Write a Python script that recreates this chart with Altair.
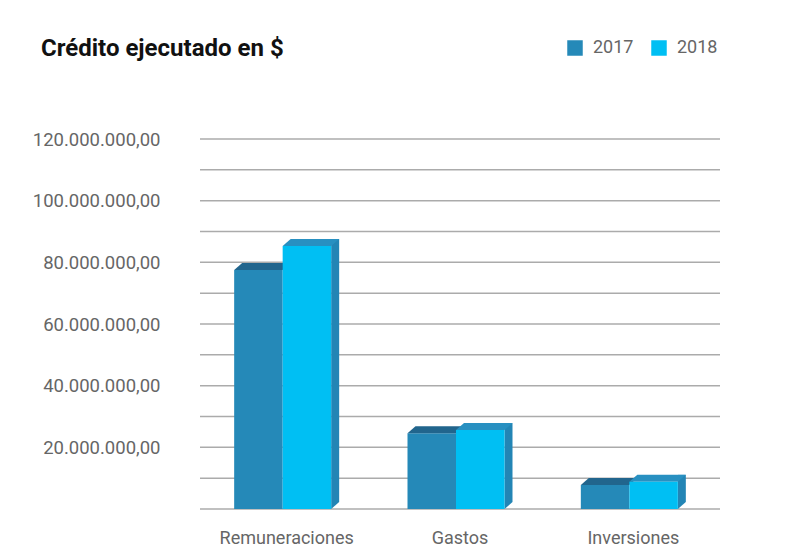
import altair as alt
import pandas as pd

categories = ["Remuneraciones", "Gastos", "Inversiones"]
years = ["2017", "2018"]
values_2017 = [77.5e6, 24.6e6, 7.8e6]
values_2018 = [85.3e6, 25.6e6, 8.8e6]
y_ticks = [0, 10e6, 20e6, 30e6, 40e6, 50e6, 60e6, 70e6, 80e6, 90e6, 100e6, 110e6, 120e6]
front_colors = ["#2589b8", "#00bff3"]
top_colors = ["#21658d", "#2890c1"]
side_color = "#2385b5"
title_text = "Crédito ejecutado en $"

rows = []
for c, v in zip(categories, values_2017):
    rows.append({"cat": c, "year": "2017", "value": v})
for c, v in zip(categories, values_2018):
    rows.append({"cat": c, "year": "2018", "value": v})
df = pd.DataFrame(rows)
grid_df = pd.DataFrame({"value": y_ticks})

FONT = "Roboto"
GRAY = "#666666"

label_expr = (
    "datum.value > 0 && datum.value % 20000000 == 0 ? "
    "replace(replace(replace(format(datum.value, ',.2f'), regexp(',', 'g'), '_'), "
    "regexp('[.]', 'g'), ','), regexp('_', 'g'), '.') : ''"
)

x_enc = alt.X(
    "cat:N",
    sort=categories,
    scale=alt.Scale(paddingInner=0, paddingOuter=0),
    axis=alt.Axis(title=None, domain=False, ticks=False, tickSize=0, labelAngle=0,
                  labelFont=FONT, labelFontSize=18, labelColor=GRAY, labelPadding=20,
                  grid=False),
)
y_scale = alt.Scale(domain=[0, 120e6], nice=False)
y_axis = alt.Axis(title=None, domain=False, ticks=False, tickSize=0, values=y_ticks,
                  labelExpr=label_expr, labelFont=FONT, labelFontSize=18.5, labelColor=GRAY,
                  labelPadding=40, grid=False)
y_enc = alt.Y("value:Q", scale=y_scale, axis=y_axis)
color_enc = alt.Color(
    "year:N",
    scale=alt.Scale(domain=years, range=front_colors),
    legend=alt.Legend(orient="none", legendX=366, legendY=-100, direction="horizontal",
                      title=None, symbolType="square", symbolSize=240, symbolStrokeWidth=0,
                      symbolOpacity=1, labelFont=FONT, labelFontSize=18, labelColor=GRAY,
                      columnPadding=16, labelOffset=9, padding=0),
)

grid = alt.Chart(grid_df).mark_rule(color="#ababab", strokeWidth=1.5).encode(y=y_enc)

base = alt.Chart(df).encode(x=x_enc, y=y_enc)
b17 = base.transform_filter(alt.datum.year == "2017")
b18 = base.transform_filter(alt.datum.year == "2018")

front17 = b17.mark_bar(width=48.5, xOffset=-28.25).encode(color=color_enc)
top17 = b17.mark_point(shape="M-48.5,0 L0,0 L8,-7 L-40.5,-7 Z", size=4, filled=True,
                       opacity=1, strokeWidth=0, fill=top_colors[0], xOffset=-4)
side18 = b18.mark_bar(width=8, xOffset=48.5, yOffset=-7, y2Offset=-7,
                      color=side_color).encode(y2=alt.datum(0))
tri18 = b18.mark_point(shape="M48.5,-7 L56.5,-7 L48.5,0 Z", size=4, filled=True,
                       opacity=1, strokeWidth=0, fill=side_color, xOffset=-4).encode(
    y=alt.datum(0))
top18 = b18.mark_point(shape="M0,0 L48.5,0 L56.5,-7 L8,-7 Z", size=4, filled=True,
                       opacity=1, strokeWidth=0, fill=top_colors[1], xOffset=-4)
front18 = b18.mark_bar(width=48.5, xOffset=20.25).encode(color=color_enc)

chart = alt.layer(grid, front17, top17, side18, tri18, top18, front18).properties(
    width=520,
    height=370,
    title=alt.TitleParams(title_text, anchor="start", frame="group", dx=-159, offset=0,
                          dy=22, fontSize=24, fontWeight="bold", font=FONT, color="#111111"),
    autosize=alt.AutoSizeParams(type="none"),
    padding={"left": 192, "top": 131, "right": 52, "bottom": 40},
    background="white",
).configure_view(stroke=None)

chart.save("out.html", embed_options={"renderer": "svg", "actions": False})
